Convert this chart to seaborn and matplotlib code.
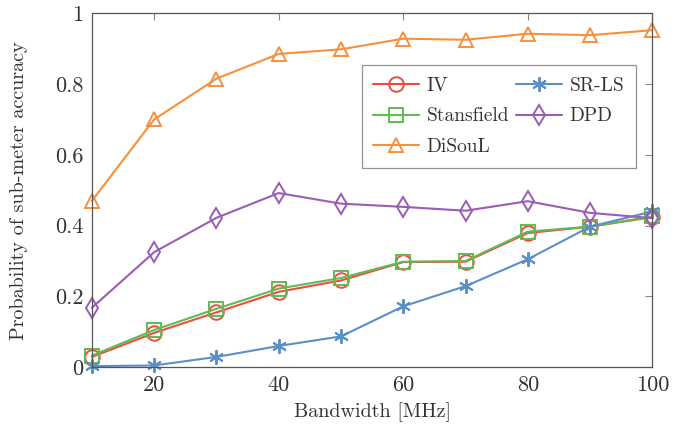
import numpy as np
import pandas as pd
import matplotlib
matplotlib.use("Agg")
import matplotlib.pyplot as plt
import seaborn as sns

# Data
bandwidth = [10, 20, 30, 40, 50, 60, 70, 80, 90, 100]
iv = [0.029, 0.097, 0.155, 0.213, 0.245, 0.297, 0.298, 0.379, 0.397, 0.424]
stansfield = [0.033, 0.105, 0.165, 0.222, 0.252, 0.298, 0.300, 0.383, 0.397, 0.426]
disoul = [0.470, 0.700, 0.815, 0.885, 0.898, 0.928, 0.925, 0.942, 0.938, 0.952]
srls = [0.003, 0.005, 0.029, 0.060, 0.087, 0.172, 0.229, 0.305, 0.397, 0.440]
dpd = [0.168, 0.325, 0.422, 0.492, 0.462, 0.453, 0.442, 0.469, 0.436, 0.421]

series_names = ["IV", "Stansfield", "DiSouL", "SR-LS", "DPD"]
series_values = [iv, stansfield, disoul, srls, dpd]
colors = ["#E8513D", "#63B955", "#F7903C", "#5B8FC9", "#9A5CB4"]
markers = ["o", "s", "^", (6, 2, 0), "d"]

xticks = [20, 40, 60, 80, 100]
yticks = [0, 0.2, 0.4, 0.6, 0.8, 1]
ytick_labels = ["0", "0.2", "0.4", "0.6", "0.8", "1"]

sns.set_style("white")
plt.rcParams["font.family"] = ["cmr10", "DejaVu Serif"]
plt.rcParams["axes.formatter.use_mathtext"] = True

fig = plt.figure(figsize=(6.91, 4.26), dpi=100)
ax = fig.add_axes([0.133, 0.138, 0.811, 0.831])

for name, vals, c, m in zip(series_names, series_values, colors, markers):
    df = pd.DataFrame({"bw": bandwidth, "p": vals})
    sns.lineplot(data=df, x="bw", y="p", ax=ax, color=c, marker=m,
                 markersize=10.5, markerfacecolor="none", markeredgecolor=c,
                 markeredgewidth=1.4, linewidth=1.5, label=name, clip_on=False)

ax.set_xlim(10, 100)
ax.set_ylim(0, 1)
ax.set_xticks(xticks)
ax.set_xticklabels([str(t) for t in xticks])
ax.set_yticks(yticks)
ax.set_yticklabels(ytick_labels)
ax.tick_params(direction="in", length=5, width=0.8, color="#888888",
               labelsize=16, top=True, right=True, labelcolor="#333333")
ax.tick_params(axis="x", pad=6)
ax.tick_params(axis="y", pad=6)
for s in ax.spines.values():
    s.set_color("#555555")
    s.set_linewidth(0.9)

ax.set_xlabel("Bandwidth [MHz]", fontsize=14.5, color="#333333")
ax.set_ylabel("Probability of sub-meter accuracy", fontsize=14.5, color="#333333")
ax.xaxis.set_label_coords(0.5, -0.099)
ax.yaxis.set_label_coords(-0.114, 0.5)

leg = ax.legend(ncol=2, loc="upper right", bbox_to_anchor=(0.971, 0.853),
                borderaxespad=0, fontsize=14, frameon=True, fancybox=False,
                edgecolor="#777777", handlelength=2.35, columnspacing=0.35,
                handletextpad=0.4, labelspacing=0.65, borderpad=0.6)
leg.get_frame().set_linewidth(0.9)
for t in leg.get_texts():
    t.set_color("#333333")

fig.savefig("out.png", dpi=100)
